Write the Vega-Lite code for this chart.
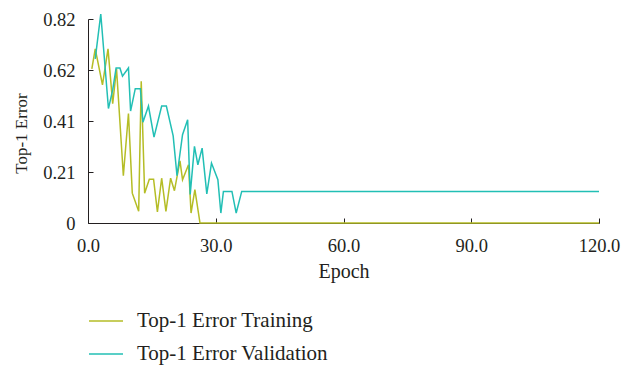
{
  "$schema": "https://vega.github.io/schema/vega-lite/v6.json",
  "width": 511,
  "height": 204,
  "autosize": "none",
  "padding": {"left": 88, "top": 19, "right": 23, "bottom": 143},
  "background": "white",
  "config": {
    "view": {"stroke": null},
    "font": "Liberation Serif",
    "axis": {
      "grid": false,
      "domainColor": "#231f20",
      "tickColor": "#231f20",
      "labelColor": "#231f20",
      "titleColor": "#231f20",
      "labelFont": "Liberation Serif",
      "titleFont": "Liberation Serif",
      "labelFontSize": 18.5,
      "titleFontWeight": "normal",
      "tickSize": -5
    },
    "legend": {
      "labelFont": "Liberation Serif",
      "labelFontSize": 21,
      "labelColor": "#231f20"
    }
  },
  "data": {
    "values": [
      {"epoch": 0.9, "err": 0.62, "series": "Top-1 Error Training"},
      {"epoch": 1.7, "err": 0.70, "series": "Top-1 Error Training"},
      {"epoch": 3.4, "err": 0.555, "series": "Top-1 Error Training"},
      {"epoch": 4.7, "err": 0.70, "series": "Top-1 Error Training"},
      {"epoch": 5.8, "err": 0.48, "series": "Top-1 Error Training"},
      {"epoch": 6.7, "err": 0.62, "series": "Top-1 Error Training"},
      {"epoch": 8.3, "err": 0.19, "series": "Top-1 Error Training"},
      {"epoch": 9.5, "err": 0.44, "series": "Top-1 Error Training"},
      {"epoch": 10.4, "err": 0.12, "series": "Top-1 Error Training"},
      {"epoch": 11.9, "err": 0.047, "series": "Top-1 Error Training"},
      {"epoch": 12.5, "err": 0.57, "series": "Top-1 Error Training"},
      {"epoch": 13.3, "err": 0.12, "series": "Top-1 Error Training"},
      {"epoch": 14.4, "err": 0.176, "series": "Top-1 Error Training"},
      {"epoch": 15.4, "err": 0.176, "series": "Top-1 Error Training"},
      {"epoch": 16.3, "err": 0.045, "series": "Top-1 Error Training"},
      {"epoch": 17.3, "err": 0.18, "series": "Top-1 Error Training"},
      {"epoch": 18.3, "err": 0.047, "series": "Top-1 Error Training"},
      {"epoch": 19.4, "err": 0.18, "series": "Top-1 Error Training"},
      {"epoch": 20.3, "err": 0.13, "series": "Top-1 Error Training"},
      {"epoch": 21.6, "err": 0.25, "series": "Top-1 Error Training"},
      {"epoch": 22.2, "err": 0.174, "series": "Top-1 Error Training"},
      {"epoch": 23.6, "err": 0.234, "series": "Top-1 Error Training"},
      {"epoch": 24.2, "err": 0.04, "series": "Top-1 Error Training"},
      {"epoch": 25.1, "err": 0.134, "series": "Top-1 Error Training"},
      {"epoch": 26.3, "err": 0.0, "series": "Top-1 Error Training"},
      {"epoch": 120, "err": 0.0, "series": "Top-1 Error Training"},
      {"epoch": 1.7, "err": 0.66, "series": "Top-1 Error Validation"},
      {"epoch": 3.0, "err": 0.84, "series": "Top-1 Error Validation"},
      {"epoch": 4.8, "err": 0.46, "series": "Top-1 Error Validation"},
      {"epoch": 5.8, "err": 0.535, "series": "Top-1 Error Validation"},
      {"epoch": 6.6, "err": 0.623, "series": "Top-1 Error Validation"},
      {"epoch": 7.5, "err": 0.623, "series": "Top-1 Error Validation"},
      {"epoch": 8.1, "err": 0.59, "series": "Top-1 Error Validation"},
      {"epoch": 9.5, "err": 0.623, "series": "Top-1 Error Validation"},
      {"epoch": 10.0, "err": 0.45, "series": "Top-1 Error Validation"},
      {"epoch": 11.1, "err": 0.54, "series": "Top-1 Error Validation"},
      {"epoch": 12.3, "err": 0.54, "series": "Top-1 Error Validation"},
      {"epoch": 12.9, "err": 0.405, "series": "Top-1 Error Validation"},
      {"epoch": 14.2, "err": 0.47, "series": "Top-1 Error Validation"},
      {"epoch": 15.5, "err": 0.345, "series": "Top-1 Error Validation"},
      {"epoch": 17.3, "err": 0.47, "series": "Top-1 Error Validation"},
      {"epoch": 18.4, "err": 0.47, "series": "Top-1 Error Validation"},
      {"epoch": 20.0, "err": 0.35, "series": "Top-1 Error Validation"},
      {"epoch": 20.9, "err": 0.19, "series": "Top-1 Error Validation"},
      {"epoch": 22.2, "err": 0.355, "series": "Top-1 Error Validation"},
      {"epoch": 23.4, "err": 0.415, "series": "Top-1 Error Validation"},
      {"epoch": 24.0, "err": 0.115, "series": "Top-1 Error Validation"},
      {"epoch": 25.0, "err": 0.308, "series": "Top-1 Error Validation"},
      {"epoch": 25.8, "err": 0.234, "series": "Top-1 Error Validation"},
      {"epoch": 26.8, "err": 0.301, "series": "Top-1 Error Validation"},
      {"epoch": 27.9, "err": 0.117, "series": "Top-1 Error Validation"},
      {"epoch": 29.0, "err": 0.241, "series": "Top-1 Error Validation"},
      {"epoch": 30.5, "err": 0.174, "series": "Top-1 Error Validation"},
      {"epoch": 31.2, "err": 0.04, "series": "Top-1 Error Validation"},
      {"epoch": 31.8, "err": 0.127, "series": "Top-1 Error Validation"},
      {"epoch": 33.8, "err": 0.127, "series": "Top-1 Error Validation"},
      {"epoch": 34.8, "err": 0.04, "series": "Top-1 Error Validation"},
      {"epoch": 36.1, "err": 0.127, "series": "Top-1 Error Validation"},
      {"epoch": 120, "err": 0.127, "series": "Top-1 Error Validation"}
    ]
  },
  "mark": {"type": "line", "strokeWidth": 1.5, "clip": false},
  "encoding": {
    "x": {
      "field": "epoch",
      "type": "quantitative",
      "scale": {"domain": [0, 120], "nice": false, "zero": false},
      "axis": {
        "values": [0, 30, 60, 90, 120],
        "format": ".1f",
        "title": "Epoch",
        "labelFont": "Liberation Serif",
        "labelFontSize": 18.5,
        "labelFlush": false,
        "titleFont": "Liberation Serif",
        "titleFontSize": 20,
        "labelPadding": 18,
        "titlePadding": 7
      }
    },
    "y": {
      "field": "err",
      "type": "quantitative",
      "scale": {"domain": [0, 0.82], "nice": false},
      "axis": {
        "values": [0, 0.205, 0.41, 0.615, 0.82],
        "labelExpr": "datum.value == 0 ? '0' : format(datum.value + 0.0001, '.2f')",
        "labelFont": "Liberation Serif",
        "labelFontSize": 18.5,
        "labelFlush": false,
        "title": "Top-1 Error",
        "titleFont": "Liberation Serif",
        "titleFontSize": 17,
        "labelPadding": 18,
        "titleX": -66.5,
        "titleY": 114,
        "titleAngle": -90,
        "titleAlign": "center",
        "titleBaseline": "middle"
      }
    },
    "color": {
      "field": "series",
      "type": "nominal",
      "scale": {
        "domain": ["Top-1 Error Training", "Top-1 Error Validation"],
        "range": ["#b5bd26", "#22bfb5"]
      },
      "legend": {
        "title": null,
        "orient": "none",
        "legendX": 0,
        "legendY": 284,
        "direction": "vertical",
        "symbolType": "stroke",
        "symbolSize": 1156,
        "symbolStrokeWidth": 1.5,
        "labelOffset": 13,
        "labelLimit": 0,
        "rowPadding": 5,
        "padding": 0
      }
    }
  }
}
